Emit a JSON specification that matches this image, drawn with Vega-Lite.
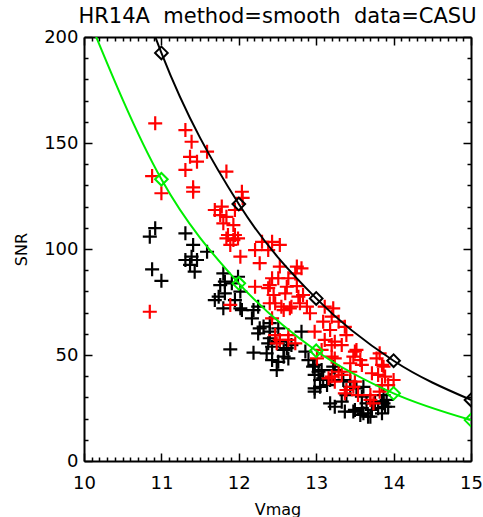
{
  "$schema": "https://vega.github.io/schema/vega-lite/v6.json",
  "width": 387,
  "height": 424,
  "autosize": {"type": "none"},
  "padding": {"left": 84, "top": 37, "right": 12, "bottom": 56},
  "background": "white",
  "config": {"view": {"stroke": null}, "font": "DejaVu Sans"},
  "title": {
    "text": "HR14A\u00a0\u00a0method=smooth\u00a0\u00a0data=CASU",
    "font": "DejaVu Sans",
    "fontSize": 21,
    "fontWeight": "normal",
    "color": "black",
    "anchor": "middle",
    "baseline": "alphabetic",
    "offset": -16
  },
  "datasets": {
    "black_pts": [
      {"v":10.92,"snr":109.8},{"v":10.85,"snr":105.8},{"v":11.31,"snr":107.4},{"v":11.41,"snr":101.9},{"v":11.59,"snr":98.7},
      {"v":11.31,"snr":94.8},{"v":11.39,"snr":96.4},{"v":11.46,"snr":94.8},{"v":11.37,"snr":92.5},{"v":11.43,"snr":89.3},
      {"v":10.88,"snr":90.4},{"v":11.00,"snr":85.0},{"v":11.80,"snr":88.5},{"v":11.76,"snr":83.0},{"v":11.82,"snr":84.6},
      {"v":11.99,"snr":86.9},{"v":11.69,"snr":75.9},{"v":11.82,"snr":79.1},{"v":11.80,"snr":72.0},{"v":11.95,"snr":75.9},
      {"v":12.02,"snr":79.9},{"v":12.02,"snr":72.0},{"v":11.89,"snr":52.7},{"v":11.91,"snr":83.8},{"v":11.74,"snr":77.5},
      {"v":12.04,"snr":71.2},{"v":12.19,"snr":71.2},{"v":12.25,"snr":72.8},{"v":12.17,"snr":67.3},{"v":12.32,"snr":63.4},
      {"v":12.25,"snr":60.2},{"v":12.40,"snr":61.0},{"v":12.81,"snr":61.0},{"v":12.38,"snr":55.5},{"v":12.19,"snr":51.1},
      {"v":12.53,"snr":56.3},{"v":12.62,"snr":53.2},{"v":12.43,"snr":47.6},{"v":12.51,"snr":46.8},{"v":12.58,"snr":49.2},
      {"v":12.49,"snr":42.9},{"v":12.64,"snr":48.4},{"v":12.86,"snr":51.6},{"v":12.90,"snr":47.6},{"v":12.98,"snr":45.3},
      {"v":13.07,"snr":42.9},{"v":13.22,"snr":44.5},{"v":12.98,"snr":40.6},{"v":13.09,"snr":39.0},{"v":12.98,"snr":34.3},
      {"v":13.05,"snr":35.0},{"v":13.18,"snr":27.2},{"v":13.24,"snr":25.6},{"v":13.33,"snr":28.0},{"v":13.24,"snr":42.9},
      {"v":13.35,"snr":38.2},{"v":13.44,"snr":35.0},{"v":13.52,"snr":34.3},{"v":13.61,"snr":35.0},{"v":13.39,"snr":31.1},
      {"v":13.37,"snr":23.3},{"v":13.50,"snr":24.1},{"v":13.61,"snr":22.5},{"v":13.70,"snr":20.9},{"v":13.80,"snr":24.9},
      {"v":13.87,"snr":27.2},{"v":13.93,"snr":25.6},{"v":13.85,"snr":22.5},{"v":13.59,"snr":30.3},{"v":13.65,"snr":27.2},
      {"v":12.96,"snr":44.5},{"v":13.03,"snr":42.1},{"v":13.05,"snr":38.2},{"v":13.18,"snr":38.2},{"v":12.98,"snr":32.7},
      {"v":13.14,"snr":35.8},{"v":13.44,"snr":37.4},{"v":13.48,"snr":23.3},{"v":13.59,"snr":24.9},{"v":13.72,"snr":24.1},
      {"v":13.57,"snr":21.7},{"v":13.67,"snr":20.9},{"v":13.76,"snr":28.0},{"v":13.85,"snr":28.0},{"v":13.91,"snr":28.8},
      {"v":13.89,"snr":25.6},{"v":13.87,"snr":31.1},{"v":12.43,"snr":53.9},{"v":12.36,"snr":50.8},{"v":12.58,"snr":52.4},
      {"v":12.68,"snr":54.7},{"v":12.27,"snr":62.6},{"v":12.40,"snr":65.0},{"v":12.51,"snr":62.6},{"v":12.40,"snr":57.9}
    ],
    "red_pts": [
      {"v":10.92,"snr":159.3},{"v":11.31,"snr":156.1},{"v":11.39,"snr":150.6},{"v":11.59,"snr":145.9},{"v":11.37,"snr":143.5},
      {"v":11.46,"snr":141.2},{"v":11.31,"snr":137.3},{"v":10.88,"snr":134.4},{"v":11.84,"snr":136.5},{"v":11.00,"snr":126.3},
      {"v":11.41,"snr":129.1},{"v":11.41,"snr":127.0},{"v":12.04,"snr":127.0},{"v":11.69,"snr":118.4},{"v":11.78,"snr":120.0},
      {"v":11.76,"snr":116.0},{"v":11.84,"snr":115.2},{"v":11.95,"snr":118.4},{"v":11.80,"snr":112.1},{"v":11.93,"snr":111.3},
      {"v":11.86,"snr":106.6},{"v":11.95,"snr":106.6},{"v":12.05,"snr":124.1},{"v":11.84,"snr":105.0},{"v":11.93,"snr":104.2},
      {"v":11.99,"snr":105.0},{"v":11.89,"snr":101.9},{"v":12.02,"snr":96.4},{"v":10.85,"snr":70.4},{"v":11.89,"snr":73.6},
      {"v":12.30,"snr":103.4},{"v":12.43,"snr":103.4},{"v":12.53,"snr":101.9},{"v":12.21,"snr":99.5},{"v":12.38,"snr":99.5},
      {"v":12.27,"snr":93.3},{"v":12.53,"snr":91.7},{"v":12.81,"snr":90.9},{"v":12.73,"snr":88.5},{"v":12.43,"snr":86.2},
      {"v":12.51,"snr":86.2},{"v":12.64,"snr":86.2},{"v":12.21,"snr":82.2},{"v":12.38,"snr":81.5},{"v":12.62,"snr":82.2},
      {"v":12.75,"snr":82.5},{"v":12.60,"snr":79.1},{"v":12.83,"snr":78.3},{"v":12.45,"snr":78.3},{"v":12.77,"snr":77.5},
      {"v":12.47,"snr":74.4},{"v":12.58,"snr":71.2},{"v":12.68,"snr":72.8},{"v":12.88,"snr":72.8},{"v":12.92,"snr":69.7},
      {"v":13.11,"snr":72.8},{"v":13.20,"snr":68.1},{"v":13.09,"snr":65.7},{"v":13.29,"snr":65.7},{"v":12.98,"snr":61.0},
      {"v":13.18,"snr":61.8},{"v":12.64,"snr":59.4},{"v":12.73,"snr":55.5},{"v":13.11,"snr":57.1},{"v":13.24,"snr":56.3},
      {"v":12.49,"snr":55.5},{"v":13.07,"snr":52.4},{"v":13.20,"snr":49.2},{"v":13.16,"snr":39.0},{"v":13.29,"snr":42.1},
      {"v":13.22,"snr":72.0},{"v":13.37,"snr":63.3},{"v":13.39,"snr":59.4},{"v":13.52,"snr":52.4},{"v":13.48,"snr":49.2},
      {"v":13.57,"snr":47.6},{"v":13.78,"snr":48.4},{"v":13.85,"snr":45.3},{"v":13.80,"snr":40.6},{"v":13.89,"snr":39.8},
      {"v":14.00,"snr":38.2},{"v":13.93,"snr":35.8},{"v":13.85,"snr":35.8},{"v":13.44,"snr":42.1},{"v":13.50,"snr":37.4},
      {"v":13.39,"snr":33.5},{"v":13.54,"snr":31.1},{"v":13.70,"snr":31.1},{"v":13.74,"snr":27.2},{"v":13.82,"snr":32.7},
      {"v":13.20,"snr":39.8},{"v":13.24,"snr":37.4},{"v":13.20,"snr":54.7},{"v":13.33,"snr":54.7},{"v":13.50,"snr":51.6},
      {"v":13.01,"snr":48.4},{"v":13.24,"snr":48.4},{"v":13.44,"snr":46.1},{"v":13.59,"snr":45.3},{"v":13.82,"snr":50.8},
      {"v":13.87,"snr":44.5},{"v":13.33,"snr":40.6},{"v":13.72,"snr":41.4},{"v":13.48,"snr":35.0},{"v":13.37,"snr":31.9},
      {"v":13.70,"snr":28.8},{"v":12.40,"snr":83.0},{"v":12.75,"snr":91.7},{"v":12.40,"snr":74.4},{"v":12.55,"snr":72.8},
      {"v":12.66,"snr":72.0},{"v":12.79,"snr":74.4},{"v":12.43,"snr":67.3},{"v":12.53,"snr":57.1},{"v":12.64,"snr":57.1},
      {"v":12.47,"snr":59.4}
    ],
    "curves": [
      {"v":10,"snr":308,"curve":"black"},{"v":11,"snr":192.5,"curve":"black"},{"v":12,"snr":121.2,"curve":"black"},
      {"v":13,"snr":76.7,"curve":"black"},{"v":14,"snr":47.3,"curve":"black"},{"v":15,"snr":28.8,"curve":"black"},
      {"v":10,"snr":214,"curve":"green"},{"v":11,"snr":132.9,"curve":"green"},{"v":12,"snr":83.8,"curve":"green"},
      {"v":13,"snr":52.0,"curve":"green"},{"v":14,"snr":31.9,"curve":"green"},{"v":15,"snr":19.3,"curve":"green"}
    ]
  },
  "layer": [
    {
      "data": {"name": "black_pts"},
      "mark": {"type": "point", "shape": "M-1,0H1M0,-1V1", "filled": false, "size": 196, "strokeWidth": 2.2, "color": "black", "opacity": 1, "clip": true},
      "encoding": {
        "x": {
          "field": "v", "type": "quantitative",
          "scale": {"domain": [10, 15], "nice": false, "zero": false},
          "axis": {
            "orient": "bottom",
            "values": [10,10.1,10.2,10.3,10.4,10.5,10.6,10.7,10.8,10.9,11,11.1,11.2,11.3,11.4,11.5,11.6,11.7,11.8,11.9,12,12.1,12.2,12.3,12.4,12.5,12.6,12.7,12.8,12.9,13,13.1,13.2,13.3,13.4,13.5,13.6,13.7,13.8,13.9,14,14.1,14.2,14.3,14.4,14.5,14.6,14.7,14.8,14.9,15],
            "tickSize": {"condition": {"test": "datum.value % 1 === 0", "value": -8}, "value": -4},
            "labelExpr": "datum.value % 1 === 0 ? format(datum.value, 'd') : ''",
            "labelPadding": 21, "labelFontSize": 18, "labelFont": "DejaVu Sans", "labelColor": "black",
            "labelFlush": false, "labelOverlap": false, "labelBound": false,
            "domainColor": "black", "domainWidth": 2, "tickColor": "black", "tickWidth": 1.5,
            "grid": false,
            "title": "Vmag", "titleFont": "DejaVu Sans", "titleFontSize": 16, "titleFontWeight": "normal", "titleColor": "black", "titlePadding": 5
          }
        },
        "y": {
          "field": "snr", "type": "quantitative",
          "scale": {"domain": [0, 200], "nice": false, "zero": false},
          "axis": {
            "orient": "left",
            "values": [0,10,20,30,40,50,60,70,80,90,100,110,120,130,140,150,160,170,180,190,200],
            "tickSize": {"condition": {"test": "datum.value % 50 === 0", "value": -8}, "value": -4},
            "labelExpr": "datum.value % 50 === 0 ? format(datum.value, 'd') : ''",
            "labelPadding": 14, "labelFontSize": 18, "labelFont": "DejaVu Sans", "labelColor": "black",
            "labelFlush": false, "labelOverlap": false, "labelBound": false,
            "domainColor": "black", "domainWidth": 2, "tickColor": "black", "tickWidth": 1.5,
            "grid": false,
            "title": "SNR", "titleFont": "DejaVu Sans", "titleFontSize": 16, "titleFontWeight": "normal", "titleColor": "black", "titlePadding": 14
          }
        }
      }
    },
    {
      "data": {"name": "red_pts"},
      "mark": {"type": "point", "shape": "M-1,0H1M0,-1V1", "filled": false, "size": 196, "strokeWidth": 2.2, "color": "#ff0000", "opacity": 1, "clip": true},
      "encoding": {
        "x": {
          "field": "v", "type": "quantitative",
          "axis": {
            "orient": "top",
            "values": [10,10.1,10.2,10.3,10.4,10.5,10.6,10.7,10.8,10.9,11,11.1,11.2,11.3,11.4,11.5,11.6,11.7,11.8,11.9,12,12.1,12.2,12.3,12.4,12.5,12.6,12.7,12.8,12.9,13,13.1,13.2,13.3,13.4,13.5,13.6,13.7,13.8,13.9,14,14.1,14.2,14.3,14.4,14.5,14.6,14.7,14.8,14.9,15],
            "tickSize": {"condition": {"test": "datum.value % 1 === 0", "value": -8}, "value": -4},
            "labels": false, "title": null, "grid": false,
            "domainColor": "black", "domainWidth": 2, "tickColor": "black", "tickWidth": 1.5
          }
        },
        "y": {
          "field": "snr", "type": "quantitative",
          "axis": {
            "orient": "right",
            "values": [0,10,20,30,40,50,60,70,80,90,100,110,120,130,140,150,160,170,180,190,200],
            "tickSize": {"condition": {"test": "datum.value % 50 === 0", "value": -8}, "value": -4},
            "labels": false, "title": null, "grid": false,
            "domainColor": "black", "domainWidth": 2, "tickColor": "black", "tickWidth": 1.5
          }
        }
      }
    },
    {
      "data": {"name": "curves"},
      "mark": {"type": "line", "interpolate": "monotone", "strokeWidth": 2, "clip": true},
      "encoding": {
        "x": {"field": "v", "type": "quantitative", "axis": null},
        "y": {"field": "snr", "type": "quantitative", "axis": null},
        "color": {"field": "curve", "type": "nominal", "scale": {"domain": ["black", "green"], "range": ["#000000", "#00ee00"]}, "legend": null},
        "detail": {"field": "curve"}
      }
    },
    {
      "data": {"name": "curves"},
      "mark": {"type": "point", "shape": "diamond", "filled": false, "size": 160, "strokeWidth": 2, "opacity": 1, "clip": true},
      "encoding": {
        "x": {"field": "v", "type": "quantitative", "axis": null},
        "y": {"field": "snr", "type": "quantitative", "axis": null},
        "color": {"field": "curve", "type": "nominal", "scale": {"domain": ["black", "green"], "range": ["#000000", "#00ee00"]}, "legend": null}
      }
    }
  ],
  "resolve": {"axis": {"x": "independent", "y": "independent"}}
}
